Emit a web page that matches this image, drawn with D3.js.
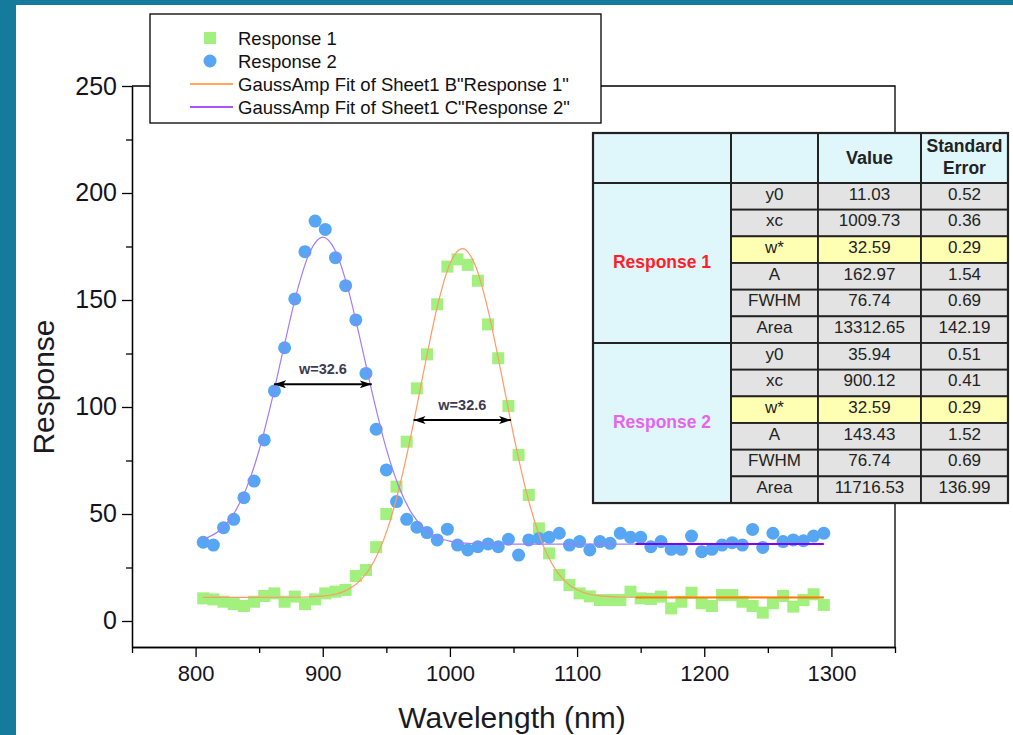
<!DOCTYPE html>
<html>
<head>
<meta charset="utf-8">
<script src="https://cdn.jsdelivr.net/npm/d3@7"></script>
<style>
  body { margin: 0; background: #147b9c; }
  text { font-family: "Liberation Sans", Arial, sans-serif; }
</style>
</head>
<body>
<script>
// wavelength of every sample (nm)
var wavelength = [806, 814, 822, 830, 838, 846, 854, 862, 870, 878, 886, 894, 902, 910, 918, 926,
  934, 942, 950, 958, 966, 974, 982, 990, 998, 1006, 1014, 1022, 1030, 1038, 1046, 1054,
  1062, 1070, 1078, 1086, 1094, 1102, 1110, 1118, 1126, 1134, 1142, 1150, 1158, 1166, 1174,
  1182, 1190, 1198, 1206, 1214, 1222, 1230, 1238, 1246, 1254, 1262, 1270, 1278, 1286, 1294];

var response1 = [10.6, 10.1, 9.0, 7.9, 7.0, 9.0, 11.7, 12.9, 9.0, 11.4, 7.9, 10.1, 12.9, 13.7, 14.5, 21.0,
  23.8, 34.5, 50.0, 62.8, 83.8, 108.7, 124.6, 148.0, 165.6, 169.0, 166.4, 159.0, 138.6, 122.8, 100.5, 77.6,
  58.9, 43.3, 31.6, 21.5, 16.8, 12.9, 11.5, 9.8, 9.8, 9.8, 13.7, 10.6, 10.3, 11.4, 5.9,
  9.0, 13.2, 8.3, 7.0, 12.1, 12.1, 9.0, 7.0, 3.9, 8.3, 11.7, 6.7, 9.8, 12.5, 7.5];

var response2 = [36.8, 35.5, 43.6, 47.5, 57.6, 65.4, 84.6, 107.5, 127.7, 150.5, 172.6, 186.9, 183.0, 169.8, 156.7, 140.7,
  115.7, 89.6, 70.6, 55.8, 47.5, 43.8, 41.3, 37.9, 42.9, 35.5, 33.2, 34.7, 36.0, 34.7, 38.2, 30.8,
  37.9, 38.6, 39.1, 41.0, 35.5, 37.1, 33.2, 37.1, 36.3, 41.0, 39.1, 39.1, 34.7, 37.1, 33.5,
  33.5, 39.7, 32.4, 33.5, 35.5, 36.6, 35.5, 42.8, 34.4, 41.0, 37.1, 37.9, 37.5, 39.7, 41.0];

// GaussAmp fit curves
var fit1X = [806, 880, 900, 910, 920, 930, 940, 950, 960, 970, 980, 990, 1000, 1010, 1020, 1030, 1040,
  1050, 1060, 1070, 1080, 1090, 1100, 1120, 1140, 1294];
var fit1Y = [11.0, 11.1, 11.6, 12.5, 14.7, 19.2, 27.6, 41.4, 61.9, 88.5, 118.5, 146.7, 166.9, 174.0, 166.1, 145.3, 116.9,
  87.0, 60.6, 40.5, 27.0, 18.9, 14.6, 11.6, 11.1, 11.0];
var fit2X = [806, 820, 830, 840, 850, 860, 870, 880, 890, 900, 910, 920, 930, 940, 950, 960, 970,
  980, 990, 1000, 1020, 1050, 1294];
var fit2Y = [38.2, 42.9, 50.1, 62.1, 79.9, 103.2, 129.5, 154.5, 172.6, 179.4, 172.9, 155.0, 130.1, 103.8, 80.4, 62.5, 50.3,
  43.1, 39.1, 37.3, 36.1, 35.9, 35.9];

// baseline segments drawn heavier at the right end
var baseX = [1146, 1294];
var baseY = [11.03, 35.94];

// width annotations: from, to, level
var annFrom = [861.7, 971.4];
var annTo = [938.5, 1048.1];
var annLevel = [110.6, 93.9];
var annText = ["w=32.6", "w=32.6"];

var xMajor = [800, 900, 1000, 1100, 1200, 1300];
var xMinor = [750, 850, 950, 1050, 1150, 1250, 1350];
var yMajor = [0, 50, 100, 150, 200, 250];
var yMinor = [25, 75, 125, 175, 225];

var legendLabels = ["Response 1", "Response 2", "GaussAmp Fit of Sheet1 B\"Response 1\"", "GaussAmp Fit of Sheet1 C\"Response 2\""];

// fit results table
var paramNames = ["y0", "xc", "w*", "A", "FWHM", "Area"];
var value1 = ["11.03", "1009.73", "32.59", "162.97", "76.74", "13312.65"];
var error1 = ["0.52", "0.36", "0.29", "1.54", "0.69", "142.19"];
var value2 = ["35.94", "900.12", "32.59", "143.43", "76.74", "11716.53"];
var error2 = ["0.51", "0.41", "0.29", "1.52", "0.69", "136.99"];

var green = "#a2f07e", blue = "#56a6f4";

var svg = d3.select("body").append("svg")
    .attr("width", 1013)
    .attr("height", 735);

svg.append("rect").attr("width", 1013).attr("height", 735).attr("fill", "#147b9c");
svg.append("rect").attr("x", 16).attr("y", 5).attr("width", 1000).attr("height", 735).attr("fill", "#fff");

var defs = svg.append("defs");
defs.append("marker")
    .attr("id", "arr")
    .attr("viewBox", "0 0 12 8")
    .attr("refX", 12).attr("refY", 4)
    .attr("markerWidth", 12).attr("markerHeight", 8)
    .attr("markerUnits", "userSpaceOnUse")
    .attr("orient", "auto-start-reverse")
  .append("path")
    .attr("d", "M0,0 L12,4 L0,8 L3,4 z")
    .attr("fill", "#000");

// scales
var x = d3.scaleLinear().domain([750, 1350]).range([132, 895]);
var y = d3.scaleLinear().domain([-12.15, 250]).range([647, 86]);

// frame (top + right)
svg.append("path")
    .attr("d", "M" + x(750) + "," + y(250) + "H" + x(1350) + "V" + y(-12.15))
    .attr("fill", "none").attr("stroke", "#000").attr("stroke-width", 1.3);

// axes
var gx = svg.append("g").attr("transform", "translate(0," + y(-12.15) + ")");
gx.call(d3.axisBottom(x).tickValues(xMajor).tickFormat(d3.format("d")).tickSize(10).tickSizeOuter(0).tickPadding(8));
gx.append("g").call(d3.axisBottom(x).tickValues(xMinor).tickSize(6).tickSizeOuter(0).tickFormat(""));

var gy = svg.append("g").attr("transform", "translate(" + x(750) + ",0)");
gy.call(d3.axisLeft(y).tickValues(yMajor).tickSize(10).tickSizeOuter(0).tickPadding(5));
gy.append("g").call(d3.axisLeft(y).tickValues(yMinor).tickSize(6).tickSizeOuter(0).tickFormat(""));

svg.selectAll(".domain, .tick line").attr("stroke", "#000").attr("stroke-width", 1.3);
gx.selectAll("text").attr("font-size", "22px").attr("fill", "#14141e").attr("font-family", "Liberation Sans, Arial");
gy.selectAll("text").attr("font-size", "25px").attr("fill", "#14141e").attr("font-family", "Liberation Sans, Arial");

svg.append("text")
    .attr("x", 512).attr("y", 728)
    .attr("text-anchor", "middle")
    .attr("font-size", "30px").attr("fill", "#1a1a24")
    .text("Wavelength (nm)");

svg.append("text")
    .attr("transform", "translate(54,387) rotate(-90)")
    .attr("text-anchor", "middle")
    .attr("font-size", "30px").attr("fill", "#1a1a24")
    .text("Response");

// scatter points
svg.append("g").selectAll("rect")
    .data(wavelength)
    .enter().append("rect")
    .attr("x", function(d) { return x(d) - 6; })
    .attr("y", function(d, i) { return y(response1[i]) - 6; })
    .attr("width", 12).attr("height", 12)
    .attr("fill", green);

svg.append("g").selectAll("circle")
    .data(wavelength)
    .enter().append("circle")
    .attr("cx", function(d) { return x(d); })
    .attr("cy", function(d, i) { return y(response2[i]); })
    .attr("r", 6.5)
    .attr("fill", blue);

// fit curves
var line = d3.line()
    .x(function(d) { return x(d[0]); })
    .y(function(d) { return y(d[1]); })
    .curve(d3.curveMonotoneX);

svg.append("path")
    .attr("d", line(d3.zip(fit1X, fit1Y)))
    .attr("fill", "none").attr("stroke", "#ff9a66").attr("stroke-width", 1.2);
svg.append("path")
    .attr("d", line(d3.zip(fit2X, fit2Y)))
    .attr("fill", "none").attr("stroke", "#a07cff").attr("stroke-width", 1.2);

svg.append("line")
    .attr("x1", x(baseX[0])).attr("x2", x(baseX[1]))
    .attr("y1", y(baseY[0])).attr("y2", y(baseY[0]))
    .attr("stroke", "#ff7a00").attr("stroke-width", 2);
svg.append("line")
    .attr("x1", x(baseX[0])).attr("x2", x(baseX[1]))
    .attr("y1", y(baseY[1])).attr("y2", y(baseY[1]))
    .attr("stroke", "#8000ff").attr("stroke-width", 2);

// width annotations
var ann = svg.append("g").selectAll("g")
    .data(annFrom)
    .enter().append("g");

ann.append("line")
    .attr("x1", function(d) { return x(d); })
    .attr("x2", function(d, i) { return x(annTo[i]); })
    .attr("y1", function(d, i) { return y(annLevel[i]); })
    .attr("y2", function(d, i) { return y(annLevel[i]); })
    .attr("stroke", "#000").attr("stroke-width", 2)
    .attr("marker-start", "url(#arr)").attr("marker-end", "url(#arr)");

ann.append("text")
    .attr("x", function(d, i) { return (x(d) + x(annTo[i])) / 2; })
    .attr("y", function(d, i) { return y(annLevel[i]) - 10; })
    .attr("text-anchor", "middle")
    .attr("font-family", "DejaVu Sans, sans-serif")
    .attr("font-size", "14.5px").attr("font-weight", "bold").attr("fill", "#3c3c52")
    .text(function(d, i) { return annText[i]; });

// legend
var legend = svg.append("g");
legend.append("rect")
    .attr("x", 150).attr("y", 14).attr("width", 451).attr("height", 109)
    .attr("fill", "#fff").attr("stroke", "#000").attr("stroke-width", 1.3);

legend.append("rect").attr("x", 204).attr("y", 32).attr("width", 12).attr("height", 12).attr("fill", green);
legend.append("circle").attr("cx", 210).attr("cy", 61).attr("r", 6.5).attr("fill", blue);
legend.append("line").attr("x1", 190).attr("x2", 233).attr("y1", 84).attr("y2", 84)
    .attr("stroke", "#ff8c26").attr("stroke-width", 1.5);
legend.append("line").attr("x1", 190).attr("x2", 233).attr("y1", 107).attr("y2", 107)
    .attr("stroke", "#8a1cff").attr("stroke-width", 1.5);

legend.selectAll("text.lab")
    .data(legendLabels)
    .enter().append("text")
    .attr("class", "lab")
    .attr("x", 238)
    .attr("y", function(d, i) { return 45 + i * 23; })
    .attr("font-size", "18.5px").attr("fill", "#111")
    .text(function(d) { return d; });

// table
var cols = [593, 731, 818, 921, 1008];
var top0 = 133, head = 183, rowH = 26.67;
var tbl = svg.append("g");
var rowsAll = [];
paramNames.forEach(function(p, i) { rowsAll.push([p, value1[i], error1[i]]); });
paramNames.forEach(function(p, i) { rowsAll.push([p, value2[i], error2[i]]); });

tbl.append("rect").attr("x", cols[0]).attr("y", top0).attr("width", cols[4] - cols[0]).attr("height", head - top0)
    .attr("fill", "#dff6fb");
tbl.append("rect").attr("x", cols[0]).attr("y", head).attr("width", cols[1] - cols[0]).attr("height", rowH * 12)
    .attr("fill", "#dff6fb");

var rows = tbl.selectAll("g.row")
    .data(rowsAll)
    .enter().append("g").attr("class", "row")
    .attr("transform", function(d, i) { return "translate(0," + (head + i * rowH) + ")"; });

rows.selectAll("rect")
    .data(function(d) { return d.map(function(v) { return {v: v, star: d[0] == "w*"}; }); })
    .enter().append("rect")
    .attr("x", function(d, j) { return cols[j + 1]; })
    .attr("width", function(d, j) { return cols[j + 2] - cols[j + 1]; })
    .attr("height", rowH)
    .attr("fill", function(d) { return d.star ? "#ffffb4" : "#e3e3e3"; })
    .attr("stroke", "#222").attr("stroke-width", 1.8);

rows.selectAll("text")
    .data(function(d) { return d; })
    .enter().append("text")
    .attr("x", function(d, j) { return (cols[j + 1] + cols[j + 2]) / 2; })
    .attr("y", 16.5)
    .attr("text-anchor", "middle")
    .attr("font-size", "17px").attr("fill", "#222")
    .text(function(d) { return d; });

// header cells and group cells
[[0, 1], [1, 2], [2, 3], [3, 4]].forEach(function(c) {
  tbl.append("rect").attr("x", cols[c[0]]).attr("y", top0).attr("width", cols[c[1]] - cols[c[0]]).attr("height", head - top0)
      .attr("fill", "none").attr("stroke", "#222").attr("stroke-width", 1.8);
});
tbl.append("rect").attr("x", cols[0]).attr("y", head).attr("width", cols[1] - cols[0]).attr("height", rowH * 6)
    .attr("fill", "none").attr("stroke", "#222").attr("stroke-width", 1.8);
tbl.append("rect").attr("x", cols[0]).attr("y", head + rowH * 6).attr("width", cols[1] - cols[0]).attr("height", rowH * 6)
    .attr("fill", "none").attr("stroke", "#222").attr("stroke-width", 1.8);
tbl.append("rect").attr("x", cols[0]).attr("y", top0).attr("width", cols[4] - cols[0]).attr("height", head + rowH * 12 - top0)
    .attr("fill", "none").attr("stroke", "#222").attr("stroke-width", 2.2);

tbl.append("text").attr("x", (cols[2] + cols[3]) / 2).attr("y", 164).attr("text-anchor", "middle")
    .attr("font-size", "18px").attr("font-weight", "bold").attr("fill", "#222").text("Value");
tbl.append("text").attr("x", (cols[3] + cols[4]) / 2).attr("y", 152).attr("text-anchor", "middle")
    .attr("font-size", "17.5px").attr("font-weight", "bold").attr("fill", "#222").text("Standard");
tbl.append("text").attr("x", (cols[3] + cols[4]) / 2).attr("y", 174).attr("text-anchor", "middle")
    .attr("font-size", "17.5px").attr("font-weight", "bold").attr("fill", "#222").text("Error");

tbl.append("text").attr("x", (cols[0] + cols[1]) / 2).attr("y", 268).attr("text-anchor", "middle")
    .attr("font-size", "17.5px").attr("font-weight", "bold").attr("fill", "#ff1f2a").text("Response 1");
tbl.append("text").attr("x", (cols[0] + cols[1]) / 2).attr("y", 428).attr("text-anchor", "middle")
    .attr("font-size", "17.5px").attr("font-weight", "bold").attr("fill", "#e466ee").text("Response 2");
</script>
</body>
</html>
